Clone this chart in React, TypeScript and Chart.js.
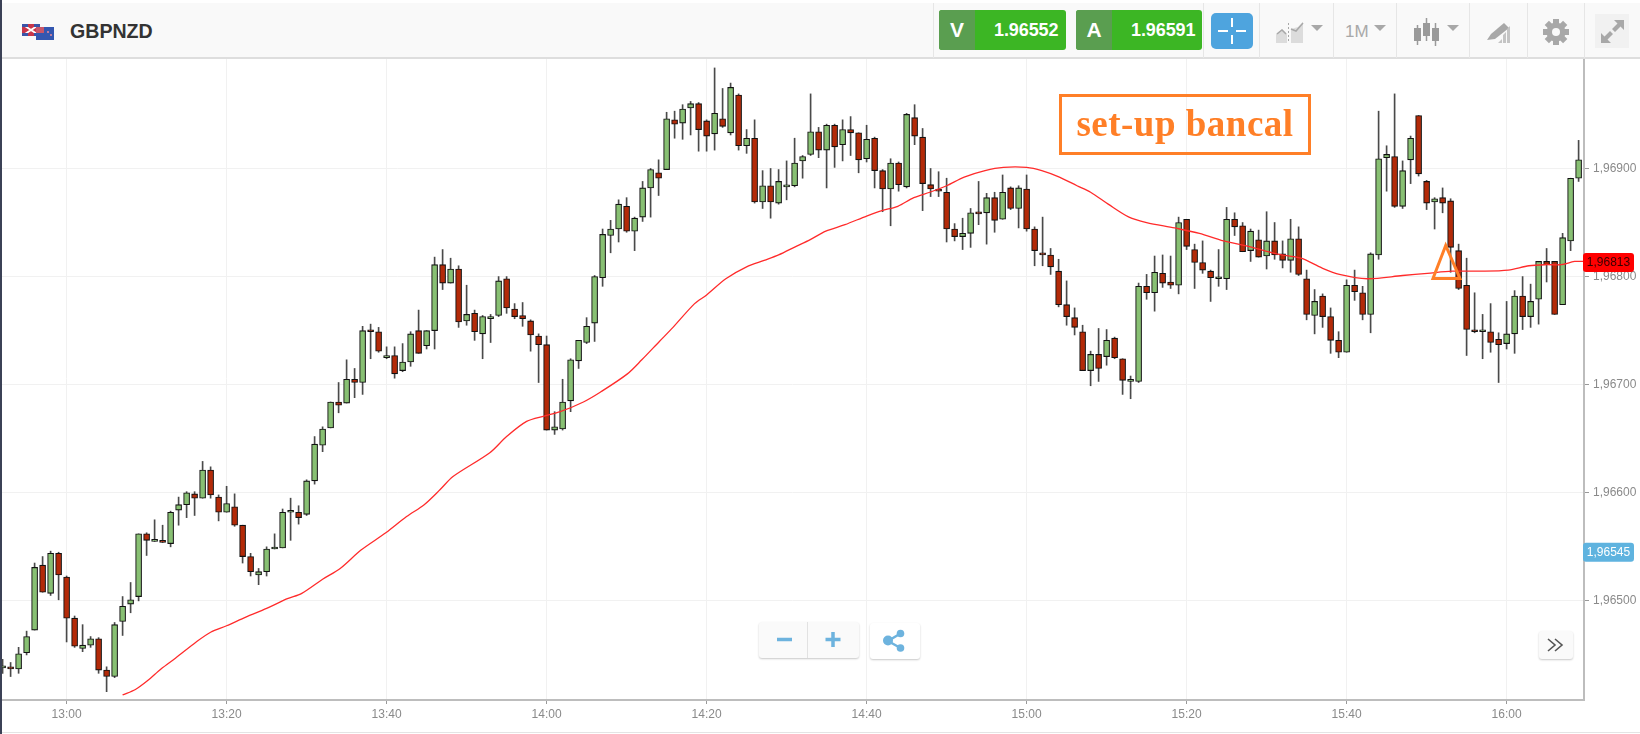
import React, { useEffect, useRef } from "react";
import { Chart, registerables } from "chart.js";

Chart.register(...registerables);

const firstMinute = -8; // minutes relative to 13:00 of the first candle

const opens = [
1.96438,1.96439,1.96437,1.96452,1.96473,1.96533,1.96507,1.96544,
1.96522,1.96484,1.96456,1.96459,1.96465,1.96436,1.96430,1.96481,1.96497,1.96504,
1.96562,1.96555,1.96556,1.96553,1.96584,1.96589,1.96599,1.96595,1.96621,1.96596,
1.96582,1.96587,1.96570,1.96541,1.96524,1.96527,1.96548,1.96549,1.96582,1.96582,
1.96580,1.96611,1.96644,1.96660,1.96684,1.96683,1.96705,1.96702,1.96750,1.96749,
1.96725,1.96727,1.96713,1.96721,1.96750,1.96736,1.96750,1.96811,1.96794,1.96807,
1.96759,1.96766,1.96747,1.96761,1.96764,1.96798,1.96770,1.96764,1.96759,1.96745,
1.96737,1.96658,1.96659,1.96685,1.96722,1.96739,1.96757,1.96799,1.96838,1.96844,
1.96865,1.96842,1.96855,1.96882,1.96896,1.96899,1.96945,1.96942,1.96956,1.96960,
1.96944,1.96932,1.96946,1.96933,1.96968,1.96921,1.96928,1.96869,1.96884,1.96868,
1.96883,1.96884,1.96907,1.96913,1.96934,1.96917,1.96940,1.96922,1.96936,1.96933,
1.96909,1.96928,1.96898,1.96881,1.96905,1.96883,1.96947,1.96929,1.96885,1.96881,
1.96878,1.96844,1.96837,1.96840,1.96859,1.96859,1.96873,1.96853,1.96882,1.96863,
1.96881,1.96844,1.96822,1.96820,1.96805,1.96774,1.96762,1.96749,1.96713,1.96728,
1.96726,1.96743,1.96724,1.96703,1.96703,1.96791,1.96785,1.96803,1.96795,1.96792,
1.96853,1.96825,1.96813,1.96805,1.96798,1.96798,1.96853,1.96847,1.96824,1.96834,
1.96819,1.96833,1.96821,1.96815,1.96835,1.96798,1.96764,1.96782,1.96763,1.96741,
1.96730,1.96792,1.96785,1.96765,1.96820,1.96910,1.96911,1.96865,1.96908,1.96949,
1.96888,1.96869,1.96873,1.96870,1.96824,1.96792,1.96750,1.96749,1.96749,1.96742,
1.96738,1.96747,1.96782,1.96763,1.96779,1.96814,1.96814,1.96774,1.96833,1.96891,
];

const highs = [
1.96446,1.96443,1.96457,1.96472,1.96535,1.96541,1.96546,1.96545,
1.96523,1.96486,1.96478,1.96467,1.96466,1.96439,1.96480,1.96504,1.96517,1.96562,
1.96563,1.96575,1.96570,1.96583,1.96596,1.96601,1.96601,1.96629,1.96624,1.96598,
1.96606,1.96599,1.96570,1.96544,1.96530,1.96550,1.96562,1.96585,1.96595,1.96588,
1.96612,1.96652,1.96661,1.96684,1.96702,1.96723,1.96715,1.96754,1.96756,1.96753,
1.96735,1.96735,1.96738,1.96749,1.96769,1.96750,1.96818,1.96825,1.96817,1.96810,
1.96792,1.96769,1.96764,1.96765,1.96800,1.96800,1.96775,1.96776,1.96760,1.96747,
1.96745,1.96675,1.96705,1.96724,1.96741,1.96762,1.96801,1.96844,1.96852,1.96871,
1.96873,1.96855,1.96888,1.96900,1.96908,1.96952,1.96953,1.96959,1.96962,1.96961,
1.96945,1.96993,1.96974,1.96979,1.96969,1.96936,1.96945,1.96898,1.96900,1.96899,
1.96907,1.96928,1.96912,1.96969,1.96938,1.96941,1.96941,1.96945,1.96948,1.96933,
1.96940,1.96929,1.96899,1.96909,1.96906,1.96951,1.96959,1.96937,1.96900,1.96897,
1.96891,1.96849,1.96854,1.96863,1.96888,1.96877,1.96878,1.96894,1.96883,1.96884,
1.96894,1.96846,1.96855,1.96826,1.96816,1.96796,1.96771,1.96755,1.96731,1.96752,
1.96751,1.96744,1.96724,1.96708,1.96794,1.96802,1.96819,1.96820,1.96819,1.96855,
1.96853,1.96830,1.96833,1.96806,1.96825,1.96864,1.96859,1.96850,1.96844,1.96843,
1.96860,1.96850,1.96833,1.96853,1.96846,1.96806,1.96788,1.96784,1.96771,1.96749,
1.96797,1.96806,1.96791,1.96822,1.96953,1.96921,1.96969,1.96907,1.96930,1.96949,
1.96889,1.96873,1.96882,1.96872,1.96830,1.96817,1.96785,1.96765,1.96775,1.96748,
1.96777,1.96787,1.96800,1.96793,1.96814,1.96826,1.96814,1.96840,1.96891,1.96926,
];

const lows = [
1.96433,1.96430,1.96433,1.96450,1.96473,1.96508,1.96505,1.96501,
1.96462,1.96457,1.96453,1.96457,1.96433,1.96416,1.96429,1.96468,1.96489,1.96500,
1.96542,1.96555,1.96554,1.96550,1.96570,1.96577,1.96579,1.96595,1.96595,1.96574,
1.96582,1.96569,1.96535,1.96523,1.96515,1.96523,1.96548,1.96549,1.96556,1.96571,
1.96579,1.96608,1.96638,1.96660,1.96674,1.96683,1.96688,1.96691,1.96724,1.96730,
1.96724,1.96706,1.96712,1.96717,1.96729,1.96733,1.96733,1.96788,1.96794,1.96753,
1.96755,1.96741,1.96724,1.96739,1.96763,1.96766,1.96761,1.96754,1.96731,1.96702,
1.96658,1.96654,1.96658,1.96675,1.96715,1.96738,1.96740,1.96791,1.96822,1.96832,
1.96841,1.96824,1.96851,1.96855,1.96875,1.96899,1.96928,1.96927,1.96931,1.96916,
1.96916,1.96917,1.96938,1.96931,1.96917,1.96914,1.96868,1.96863,1.96854,1.96867,
1.96871,1.96883,1.96891,1.96912,1.96910,1.96882,1.96901,1.96907,1.96912,1.96896,
1.96906,1.96882,1.96860,1.96847,1.96879,1.96882,1.96922,1.96861,1.96874,1.96874,
1.96832,1.96833,1.96825,1.96827,1.96848,1.96830,1.96841,1.96853,1.96862,1.96845,
1.96842,1.96810,1.96810,1.96802,1.96772,1.96755,1.96746,1.96713,1.96699,1.96703,
1.96718,1.96724,1.96691,1.96687,1.96702,1.96779,1.96768,1.96790,1.96789,1.96784,
1.96825,1.96789,1.96803,1.96777,1.96791,1.96788,1.96838,1.96823,1.96814,1.96818,
1.96807,1.96816,1.96808,1.96804,1.96801,1.96760,1.96747,1.96753,1.96729,1.96725,
1.96730,1.96778,1.96760,1.96748,1.96816,1.96879,1.96864,1.96863,1.96886,1.96893,
1.96862,1.96844,1.96859,1.96804,1.96788,1.96727,1.96748,1.96724,1.96730,1.96702,
1.96733,1.96729,1.96751,1.96753,1.96756,1.96795,1.96765,1.96774,1.96824,1.96888,
];

const closes = [
1.96440,1.96437,1.96451,1.96467,1.96531,1.96508,1.96544,1.96524,
1.96484,1.96458,1.96459,1.96465,1.96436,1.96430,1.96478,1.96495,1.96501,1.96562,
1.96556,1.96557,1.96554,1.96582,1.96589,1.96600,1.96595,1.96621,1.96598,1.96582,
1.96590,1.96570,1.96541,1.96527,1.96527,1.96548,1.96549,1.96582,1.96582,1.96577,
1.96611,1.96645,1.96659,1.96684,1.96681,1.96705,1.96702,1.96750,1.96749,1.96731,
1.96727,1.96710,1.96721,1.96747,1.96729,1.96750,1.96811,1.96794,1.96807,1.96758,
1.96765,1.96749,1.96763,1.96763,1.96796,1.96771,1.96763,1.96761,1.96746,1.96737,
1.96658,1.96661,1.96684,1.96723,1.96741,1.96754,1.96800,1.96839,1.96844,1.96867,
1.96842,1.96854,1.96882,1.96899,1.96891,1.96946,1.96941,1.96955,1.96960,1.96936,
1.96930,1.96951,1.96939,1.96975,1.96921,1.96928,1.96869,1.96884,1.96869,1.96888,
1.96883,1.96905,1.96911,1.96934,1.96917,1.96940,1.96920,1.96936,1.96933,1.96908,
1.96927,1.96898,1.96881,1.96905,1.96885,1.96950,1.96930,1.96886,1.96881,1.96879,
1.96844,1.96837,1.96840,1.96859,1.96858,1.96873,1.96852,1.96878,1.96863,1.96882,
1.96844,1.96824,1.96820,1.96809,1.96774,1.96763,1.96753,1.96713,1.96728,1.96715,
1.96741,1.96725,1.96704,1.96703,1.96791,1.96785,1.96804,1.96794,1.96792,1.96850,
1.96828,1.96813,1.96806,1.96799,1.96798,1.96853,1.96846,1.96823,1.96842,1.96818,
1.96833,1.96820,1.96815,1.96835,1.96802,1.96765,1.96777,1.96763,1.96741,1.96730,
1.96792,1.96786,1.96765,1.96821,1.96909,1.96913,1.96865,1.96898,1.96928,1.96895,
1.96868,1.96872,1.96868,1.96827,1.96789,1.96751,1.96749,1.96749,1.96739,1.96737,
1.96747,1.96782,1.96763,1.96777,1.96814,1.96811,1.96765,1.96836,1.96891,1.96908,
];

const maMinutes = [
7,8.6,10.1,11.8,13.6,16.2,18,20,22.4,25,27.6,29.4,32,34.2,36.8,39.9,42.5,44.7,46.7,48.3,52.9,55,57.5,59.7,
61.7,64.6,66.7,70.1,71.9,74.1,75.8,78.5,80,82.4,85,87.2,89,91.2,92.9,94.9,97.3,100,101.9,103.9,105.9,107.9,110,112.2,114.8,117.1,120,121.9,124.1,126.3,128,
130.2,132.8,135,138.5,141.6,144.6,147.7,151.2,154.3,156.9,159.1,162.6,167,170.1,173.2,176.7,180.2,182.8,185,186.8,188.5,189.6,
];
const maValues = [
1.96413,1.96418,1.96426,1.96437,1.96447,1.96462,1.96471,1.96477,1.96485,1.96493,1.96502,1.96507,1.96520,1.96530,1.96547,1.96563,1.96578,1.96589,1.96603,1.96615,1.96637,1.96652,1.96666,1.96671,
1.96675,1.96684,1.96693,1.96710,1.96723,1.96740,1.96753,1.96775,1.96783,1.96798,1.96809,1.96815,1.96820,1.96828,1.96834,1.96842,1.96848,1.96856,1.96861,1.96865,1.96873,1.96878,1.96884,1.96892,1.96898,1.96901,1.96901,1.96898,1.96892,1.96884,1.96878,
1.96867,1.96855,1.96850,1.96845,1.96840,1.96833,1.96828,1.96821,1.96817,1.96808,1.96802,1.96798,1.96801,1.96803,1.96805,1.96805,1.96806,1.96810,1.96811,1.96811,1.96814,1.96814,
];

const xTickMinutes = [0, 20, 40, 60, 80, 100, 120, 140, 160, 180];
const xTickLabels = ["13:00","13:20","13:40","14:00","14:20","14:40","15:00","15:20","15:40","16:00"];
const yTicks = [1.965, 1.966, 1.967, 1.968, 1.969];

const instrument = "GBPNZD";
const sellPrice = "1.96552";
const buyPrice = "1.96591";
const annotation = "set-up bancal";
const maTag = 1.96813;
const bidTag = 1.96545;

const fmt = (v: number) => v.toFixed(5).replace(".", ",");
const FONT = "'Liberation Sans', Arial, sans-serif";
const GRID = "#f1f1f1";
const AXIS = "#bdbdbd";
const GREEN = "#88c073";
const RED = "#b32a08";
const ICON = "#a8a8a8";
const BLUE = "#6db3de";
const ORANGE = "#ff7f27";

const tagPlugin = {
  id: "priceTags",
  afterDraw(chart: any) {
    const { ctx, scales } = chart;
    const tags = [
      { v: maTag, bg: "#ff0000", fg: "#3a0000" },
      { v: bidTag, bg: "#5fb3df", fg: "#ffffff" },
    ];
    ctx.save();
    for (const t of tags) {
      const y = scales.y.getPixelForValue(t.v);
      ctx.fillStyle = t.bg;
      ctx.beginPath();
      ctx.roundRect(1583, y - 9.5, 51, 19, 3);
      ctx.fill();
      ctx.fillStyle = t.fg;
      ctx.font = `12px ${FONT}`;
      ctx.textAlign = "center";
      ctx.textBaseline = "middle";
      ctx.fillText(fmt(t.v), 1608.5, y + 0.5);
    }
    ctx.restore();
  },
};

function Sep({ x }: { x: number }) {
  return <div style={{ position: "absolute", left: x, top: 3, width: 1, height: 55, background: "#e6e6e6" }} />;
}

function Quote({ left, split, width, letter, price, textLeft }: any) {
  return (
    <div style={{ position: "absolute", left, top: 10, width, height: 40, background: "#3cb624", borderRadius: 3, overflow: "hidden", color: "#fff", fontFamily: FONT, fontWeight: 700 }}>
      <div style={{ position: "absolute", left: 0, top: 0, width: split, height: 40, background: "#5a9e50", textAlign: "center", fontSize: 21, lineHeight: "40px" }}>{letter}</div>
      <div style={{ position: "absolute", left: textLeft, top: 0, fontSize: 18, lineHeight: "40px", letterSpacing: -0.1 }}>{price}</div>
    </div>
  );
}

function Caret({ x, y }: { x: number; y: number }) {
  return (
    <svg style={{ position: "absolute", left: x, top: y }} width={12} height={6}>
      <path d="M0 0H12L6 6Z" fill={ICON} />
    </svg>
  );
}

function Header() {
  return (
    <>
      <div style={{ position: "absolute", left: 2, top: 3, width: 1638, height: 54, background: "#f9f9f9", borderBottom: "2px solid #dedede", boxSizing: "content-box" }} />
      <svg style={{ position: "absolute", left: 20, top: 22 }} width={36} height={20}>
        <rect x={2} y={2} width={18} height={12} fill="#c8364a" />
        <path d="M2 2L20 14M20 2L2 14" stroke="#fff" strokeWidth={2} />
        <rect x={2} y={2} width={6} height={3} fill="#3a55a8" />
        <rect x={14} y={2} width={6} height={3} fill="#3a55a8" />
        <rect x={2} y={11} width={6} height={3} fill="#3a55a8" />
        <rect x={14} y={11} width={6} height={3} fill="#3a55a8" />
        <rect x={16} y={5} width={18} height={13} fill="#3457b0" />
        <rect x={16} y={5} width={8} height={6} fill="#c8566a" />
        <circle cx={28} cy={10} r={1} fill="#e8889a" />
        <circle cx={31} cy={13} r={1} fill="#e8889a" />
      </svg>
      <div style={{ position: "absolute", left: 70, top: 19, fontFamily: FONT, fontWeight: 700, fontSize: 19.6, lineHeight: "24px", color: "#333" }}>{instrument}</div>
      {[933, 1203, 1259, 1333, 1396, 1469, 1527, 1584].map((x) => <Sep key={x} x={x} />)}
      <Quote left={939} width={127} split={36} letter="V" price={sellPrice} textLeft={55} />
      <Quote left={1076} width={126} split={36} letter="A" price={buyPrice} textLeft={55} />
      <svg style={{ position: "absolute", left: 1211, top: 13 }} width={42} height={36}>
        <rect width={42} height={36} rx={5} fill="#4ea4de" />
        <path d="M21 5V14M21 22V31M7 18H17M25 18H35" stroke="#fff" strokeWidth={2} />
      </svg>
      <svg style={{ position: "absolute", left: 1276, top: 20 }} width={28} height={24}>
        <path d="M0 14L6 9L11 14V23H0Z" fill="#dcdcdc" />
        <path d="M15 9L22 7L27 2V23H15Z" fill="#dcdcdc" />
        <path d="M1 14L6 10L10 14" stroke={ICON} strokeWidth={1.5} fill="none" />
        <path d="M15 9L20 11L27 3" stroke={ICON} strokeWidth={1.5} fill="none" />
        <path d="M12.5 3V23" stroke={ICON} strokeWidth={1} strokeDasharray="2 2" />
      </svg>
      <Caret x={1311} y={25} />
      <div style={{ position: "absolute", left: 1345, top: 21, fontFamily: FONT, fontSize: 17, lineHeight: "22px", color: ICON }}>1M</div>
      <Caret x={1374} y={25} />
      <svg style={{ position: "absolute", left: 1413, top: 17 }} width={27} height={30}>
        <path d="M4.5 8V28M13.5 1V24M22.5 6V29" stroke="#9a9a9a" strokeWidth={1.5} />
        <rect x={1} y={11} width={7} height={13} fill="#9a9a9a" />
        <rect x={10} y={6} width={7} height={13} fill="#9a9a9a" />
        <rect x={19} y={11} width={7} height={13} fill="#9a9a9a" />
      </svg>
      <Caret x={1447} y={25} />
      <svg style={{ position: "absolute", left: 1486, top: 21 }} width={26} height={24}>
        <path d="M1 19L5 13L18 2L23 7L9 18Z" fill={ICON} />
        <path d="M12 22L16 18V22ZM17 22V14L20 11V22ZM21 22V8L24 5V22Z" fill="#c4c4c4" />
      </svg>
      <svg style={{ position: "absolute", left: 1543, top: 19 }} width={26} height={26} viewBox="-13 -13 26 26">
        {[0, 45, 90, 135].map((a) => (
          <rect key={a} x={-3} y={-13} width={6} height={26} fill={ICON} transform={`rotate(${a})`} />
        ))}
        <circle r={9.5} fill={ICON} />
        <circle r={4} fill="#f9f9f9" />
      </svg>
      <div style={{ position: "absolute", left: 1595, top: 14, width: 34, height: 34, background: "#f1f1f1" }} />
      <svg style={{ position: "absolute", left: 1600, top: 18 }} width={26} height={26}>
        <path d="M14 2H24V12L20.5 8.5L15 14L12 11L17.5 5.5Z" fill={ICON} />
        <path d="M1 15V25H11L7.5 21.5L13 16L10 13L4.5 18.5Z" fill={ICON} />
      </svg>
    </>
  );
}

function Overlays() {
  const box = { position: "absolute" as const, background: "#fafafa", borderRadius: 3, boxShadow: "0 1px 2px rgba(0,0,0,0.22)" };
  return (
    <>
      <div style={{ ...box, left: 759, top: 622, width: 100, height: 36 }} />
      <div style={{ position: "absolute", left: 807, top: 622, width: 1, height: 36, background: "#e2e2e2" }} />
      <svg style={{ position: "absolute", left: 770, top: 626 }} width={80} height={28}>
        <path d="M7 13.5H22" stroke={BLUE} strokeWidth={3.5} />
        <path d="M55.5 13.5H70.5M63 6V21" stroke={BLUE} strokeWidth={3.5} />
      </svg>
      <div style={{ ...box, background: "#fff", left: 870, top: 623, width: 50, height: 36 }} />
      <svg style={{ position: "absolute", left: 880, top: 628 }} width={30} height={26}>
        <path d="M20.5 5.5L8 13L20.5 20" stroke={BLUE} strokeWidth={2.5} fill="none" />
        <circle cx={8} cy={12.5} r={5} fill={BLUE} />
        <circle cx={20.5} cy={5.5} r={3.8} fill={BLUE} />
        <circle cx={20.5} cy={20} r={3.8} fill={BLUE} />
      </svg>
      <div style={{ ...box, left: 1539, top: 631, width: 34, height: 28 }} />
      <svg style={{ position: "absolute", left: 1546, top: 637 }} width={20} height={16}>
        <path d="M2 2L9 8L2 14M9 2L16 8L9 14" stroke="#555" strokeWidth={1.6} fill="none" />
      </svg>
      <div style={{ position: "absolute", left: 1059, top: 94, width: 252, height: 61, boxSizing: "border-box", border: `3px solid ${ORANGE}`, color: ORANGE, fontFamily: "'Liberation Serif', serif", fontWeight: 700, fontSize: 37, lineHeight: "54px", textAlign: "center", letterSpacing: 0.5, whiteSpace: "nowrap" }}>
        {annotation}
      </div>
      <svg style={{ position: "absolute", left: 1425, top: 238 }} width={44} height={46}>
        <path d="M20.7 7.5L8 40.5H35Z" stroke={ORANGE} strokeWidth={3} fill="none" />
      </svg>
      <div style={{ position: "absolute", left: 0, top: 0, width: 2, height: 734, background: "#3b4156" }} />
      <div style={{ position: "absolute", left: 2, top: 732, width: 1638, height: 1, background: "#e4e4e4" }} />
    </>
  );
}

export default function App() {
  const ref = useRef<HTMLCanvasElement>(null);
  useEffect(() => {
    const minutes = opens.map((_, i) => firstMinute + i);
    const colours = closes.map((c, i) => (c >= opens[i] ? GREEN : RED));
    const chart = new Chart(ref.current as HTMLCanvasElement, {
      type: "bar",
      data: {
        datasets: [
          {
            type: "line",
            data: maMinutes.map((x, i) => ({ x, y: maValues[i] })),
            borderColor: "#ff2b2b",
            borderWidth: 1.3,
            pointRadius: 0,
            tension: 0.3,
            order: 0,
          },
          {
            data: minutes.map((x, i) => ({ x, y: [opens[i], closes[i]] })),
            backgroundColor: colours,
            borderColor: "#111111",
            borderWidth: 1.1,
            barThickness: 6,
            minBarLength: 2,
            grouped: false,
            borderSkipped: false,
            order: 1,
          },
          {
            data: minutes.map((x, i) => ({ x, y: [lows[i], highs[i]] })),
            backgroundColor: "#4a4a4a",
            barThickness: 1,
            grouped: false,
            order: 2,
          },
        ] as any,
      },
      plugins: [tagPlugin],
      options: {
        responsive: false,
        animation: false,
        devicePixelRatio: 1,
        layout: { padding: { left: 2, top: 58, right: 0, bottom: 0 } },
        plugins: { legend: { display: false }, tooltip: { enabled: false } },
        scales: {
          x: {
            type: "linear",
            offset: false,
            min: -8.075,
            max: 189.675,
            afterFit: (s: any) => { s.height = 34; },
            afterBuildTicks: (s: any) => { s.ticks = xTickMinutes.map((value) => ({ value })); },
            grid: { offset: false, color: GRID, lineWidth: 1, tickLength: 4, tickColor: "#999" },
            border: { display: true, color: AXIS, width: 2 },
            ticks: {
              autoSkip: false,
              maxRotation: 0,
              padding: 3,
              color: "#8a8a8a",
              font: { family: FONT, size: 12 },
              callback: (v: any) => xTickLabels[xTickMinutes.indexOf(Number(v))],
            },
          },
          y: {
            type: "linear",
            position: "right",
            min: 1.964083,
            max: 1.970022,
            afterFit: (s: any) => { s.width = 56; },
            afterBuildTicks: (s: any) => { s.ticks = yTicks.map((value) => ({ value })); },
            grid: { color: GRID, lineWidth: 1, tickLength: 5, tickColor: "#999" },
            border: { display: true, color: AXIS, width: 2 },
            ticks: {
              padding: 4,
              color: "#8a8a8a",
              font: { family: FONT, size: 12 },
              callback: (v: any) => fmt(Number(v)),
            },
          },
        },
      } as any,
    });
    return () => chart.destroy();
  }, []);

  return (
    <div style={{ position: "fixed", left: 0, top: 0, width: 1640, height: 734, background: "#fff", overflow: "hidden" }}>
      <canvas ref={ref} width={1640} height={734} style={{ position: "absolute", left: 0, top: 0, width: 1640, height: 734 }} />
      <Header />
      <Overlays />
    </div>
  );
}
